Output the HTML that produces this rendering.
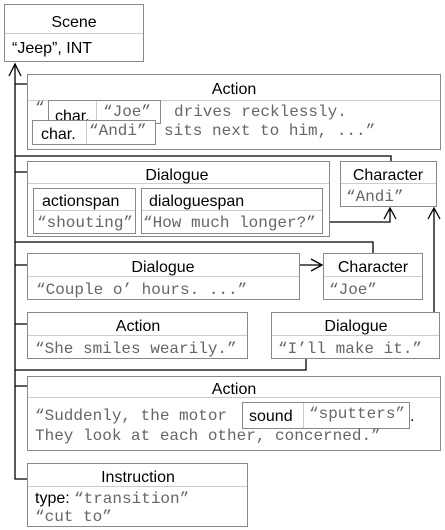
<!DOCTYPE html>
<html><head><meta charset="utf-8"><style>
html,body{margin:0;padding:0;background:#fff;width:445px;height:530px;overflow:hidden}
.s{font-family:"Liberation Sans",sans-serif;font-size:16px;fill:#000}
.m{font-family:"Liberation Mono",monospace;font-size:16px;fill:#666}
.b{fill:#fff;stroke:#888;stroke-width:1}
.d{stroke:#ccc;stroke-width:1}
.c{fill:none;stroke:#000;stroke-width:1.3}
</style></head><body>
<svg width="445" height="530" viewBox="0 0 445 530" xmlns="http://www.w3.org/2000/svg">
<path class="c" d="M15 64 V479 H27"/>
<path class="c" d="M9 76 L15 64 L21 76"/>
<path class="c" d="M15 84 H27 M15 156 H391 V161 M15 172 H27 M15 242 H373 V253 M15 265 H27 M15 324 H27 M15 370 H306 V358 M15 386 H27"/>
<path class="c" d="M329 222 H390 V208 M384 219 L390 208 L396 219"/>
<path class="c" d="M300 265 H322 M311 259 L322 265 L311 271"/>
<path class="c" d="M434 312 V208 M428 219 L434 208 L440 219"/>

<rect class="b" x="4.5" y="4.5" width="139" height="57"/>
<line class="d" x1="5" y1="33.5" x2="143" y2="33.5"/>
<text class="s" x="74" y="27" text-anchor="middle">Scene</text>
<text class="s" x="12" y="53">“Jeep”, INT</text>

<rect class="b" x="27.5" y="74.5" width="413" height="75"/>
<line class="d" x1="28" y1="100.5" x2="440" y2="100.5"/>
<text class="s" x="234" y="94" text-anchor="middle">Action</text>
<text class="m" x="35" y="112">“</text>
<rect class="b" x="48.5" y="100.5" width="112" height="23"/>
<line class="d" x1="96.5" y1="101" x2="96.5" y2="123"/>
<text class="s" x="55" y="121">char.</text>
<text class="m" x="103" y="116">“Joe”</text>
<text class="m" x="174" y="116">drives recklessly.</text>
<rect class="b" x="32.5" y="120.5" width="123" height="24"/>
<line class="d" x1="86.5" y1="121" x2="86.5" y2="144"/>
<text class="s" x="41" y="139">char.</text>
<text class="m" x="89" y="135">“Andi”</text>
<text class="m" x="164" y="135">sits next to him, ...”</text>

<rect class="b" x="27.5" y="161.5" width="302" height="75"/>
<line class="d" x1="28" y1="183.5" x2="329" y2="183.5"/>
<text class="s" x="177" y="180" text-anchor="middle">Dialogue</text>
<rect class="b" x="33.5" y="188.5" width="102" height="45"/>
<line class="d" x1="34" y1="210.5" x2="135" y2="210.5"/>
<text class="s" x="42" y="206">actionspan</text>
<text class="m" x="37" y="227">“shouting”</text>
<rect class="b" x="141.5" y="188.5" width="181" height="45"/>
<line class="d" x1="142" y1="210.5" x2="322" y2="210.5"/>
<text class="s" x="149" y="206">dialoguespan</text>
<text class="m" x="143" y="227">“How much longer?”</text>

<rect class="b" x="340.5" y="161.5" width="96" height="45"/>
<line class="d" x1="341" y1="183.5" x2="436" y2="183.5"/>
<text class="s" x="388" y="180" text-anchor="middle">Character</text>
<text class="m" x="346" y="201">“Andi”</text>

<rect class="b" x="27.5" y="253.5" width="272" height="46"/>
<line class="d" x1="28" y1="276.5" x2="299" y2="276.5"/>
<text class="s" x="163" y="272" text-anchor="middle">Dialogue</text>
<text class="m" x="36" y="294">“Couple o’ hours. ...”</text>

<rect class="b" x="323.5" y="253.5" width="99" height="46"/>
<line class="d" x1="324" y1="276.5" x2="422" y2="276.5"/>
<text class="s" x="373" y="272" text-anchor="middle">Character</text>
<text class="m" x="329" y="294">“Joe”</text>

<rect class="b" x="27.5" y="312.5" width="220" height="46"/>
<line class="d" x1="28" y1="335.5" x2="247" y2="335.5"/>
<text class="s" x="138" y="331" text-anchor="middle">Action</text>
<text class="m" x="35" y="353">“She smiles wearily.”</text>

<rect class="b" x="271.5" y="312.5" width="168" height="46"/>
<line class="d" x1="272" y1="335.5" x2="439" y2="335.5"/>
<text class="s" x="356" y="331" text-anchor="middle">Dialogue</text>
<text class="m" x="278" y="353">“I’ll make it.”</text>

<rect class="b" x="27.5" y="376.5" width="413" height="74"/>
<line class="d" x1="28" y1="397.5" x2="440" y2="397.5"/>
<text class="s" x="234" y="394" text-anchor="middle">Action</text>
<text class="m" x="35" y="420">“Suddenly, the motor</text>
<rect class="b" x="242.5" y="402.5" width="167" height="26"/>
<line class="d" x1="303.5" y1="403" x2="303.5" y2="428"/>
<text class="s" x="249" y="421">sound</text>
<text class="m" x="309" y="418">“sputters”</text>
<text class="s" x="410" y="421">.</text>
<text class="m" x="35" y="440">They look at each other, concerned.”</text>

<rect class="b" x="27.5" y="463.5" width="220" height="63"/>
<line class="d" x1="28" y1="486.5" x2="247" y2="486.5"/>
<text class="s" x="138" y="482" text-anchor="middle">Instruction</text>
<text class="s" x="35" y="503">type:</text>
<text class="m" x="74" y="503">“transition”</text>
<text class="m" x="35" y="521">“cut to”</text>
</svg>
</body></html>
